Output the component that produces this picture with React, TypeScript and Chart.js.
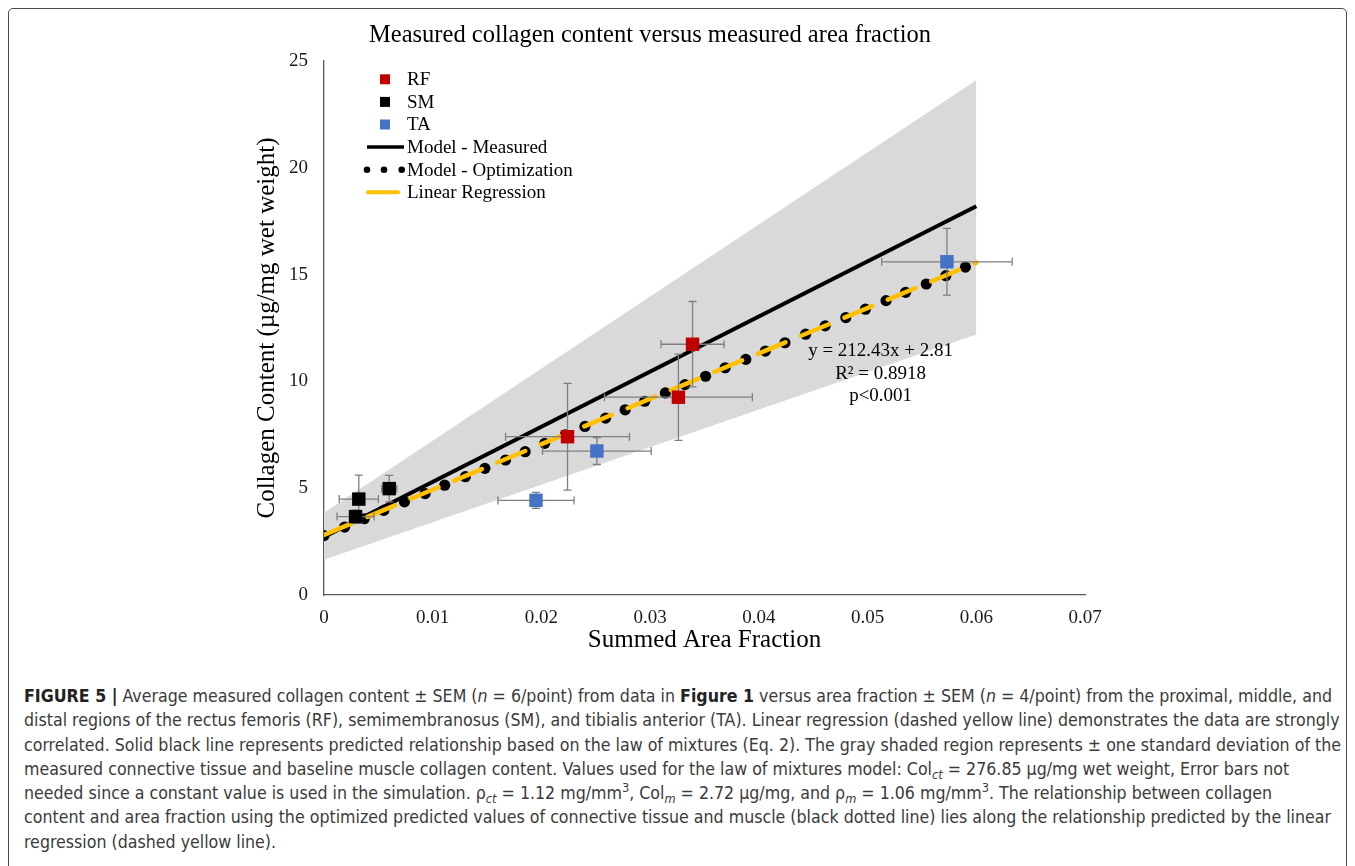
import React, { useEffect, useLayoutEffect, useRef } from "react";
import { Chart, registerables } from "chart.js";

Chart.register(...registerables);

// ---------- text ----------
const CHART_TITLE = "Measured collagen content versus measured area fraction";
const X_TITLE = "Summed Area Fraction";
const Y_TITLE = "Collagen Content (µg/mg wet weight)";
const REGRESSION_TEXT = ["y = 212.43x + 2.81", "R² = 0.8918", "p<0.001"];

// ---------- axes ----------
const X_MIN = 0;
const X_MAX = 0.07;
const X_STEP = 0.01;
const Y_MIN = 0;
const Y_MAX = 25;
const Y_STEP = 5;

// ---------- measured points (mean ± SEM) ----------
const rfX = [0.0224, 0.0339, 0.0326];
const rfY = [7.41, 11.74, 9.26];
const rfXErr = [0.0057, 0.0029, 0.0068];
const rfYErr = [2.5, 2.0, 2.02];

const smX = [0.0032, 0.0029, 0.006];
const smY = [4.49, 3.67, 4.98];
const smXErr = [0.0018, 0.0017, 0.0007];
const smYErr = [1.12, 0.3, 0.62];

const taX = [0.0195, 0.0251, 0.0573];
const taY = [4.43, 6.74, 15.6];
const taXErr = [0.0035, 0.005, 0.006];
const taYErr = [0.37, 0.63, 1.56];

// ---------- model / regression ----------
const measuredX = [0, 0.06];
const measuredY = [2.72, 18.2];

const regressionX = [0, 0.06];
const regressionY = [2.81, 15.56];

const optimizationX = [
  0.0, 0.0019, 0.0037, 0.0055, 0.0074, 0.0093, 0.0111, 0.013, 0.0148, 0.0167, 0.0185,
  0.0203, 0.0222, 0.024, 0.0259, 0.0277, 0.0295, 0.0314, 0.0332, 0.0351, 0.0369, 0.0388,
  0.0406, 0.0424, 0.0443, 0.0461, 0.048, 0.0498, 0.0517, 0.0535, 0.0554, 0.0572, 0.059,
];
const optimizationY = [
  2.78, 3.18, 3.57, 3.96, 4.36, 4.75, 5.14, 5.54, 5.93, 6.32, 6.71,
  7.1, 7.5, 7.89, 8.28, 8.67, 9.07, 9.46, 9.85, 10.24, 10.64, 11.03,
  11.42, 11.81, 12.21, 12.6, 12.99, 13.38, 13.78, 14.17, 14.56, 14.95, 15.35,
];

// ± one SD band
const bandX = [0, 0.06];
const bandLow = [1.65, 12.2];
const bandHigh = [3.85, 24.1];

// ---------- styles ----------
const SERIF = "'Liberation Serif', 'Times New Roman', serif";
const RF_COLOR = "#C00000";
const SM_COLOR = "#000000";
const TA_COLOR = "#4472C4";
const REG_COLOR = "#FFC000";
const BAND_COLOR = "#D9D9D9";

const toPts = (xs: number[], ys: number[]) => xs.map((x, i) => ({ x, y: ys[i] }));

const ERRORS: Record<number, { x: number[]; y: number[] }> = {
  0: { x: rfXErr, y: rfYErr },
  1: { x: smXErr, y: smYErr },
  2: { x: taXErr, y: taYErr },
};

const errorBarPlugin = {
  id: "errorBars",
  beforeDatasetDraw(chart: any, args: any) {
    if (args.index !== 2) return;
    const { ctx, scales } = chart;
    const xs = scales.x;
    const ys = scales.y;
    const cap = 4;
    ctx.save();
    ctx.strokeStyle = "#7f7f7f";
    ctx.lineWidth = 1.3;
    Object.keys(ERRORS).forEach((k) => {
      const di = Number(k);
      const ds = chart.data.datasets[di];
      const err = ERRORS[di];
      ds.data.forEach((p: any, i: number) => {
        const px = xs.getPixelForValue(p.x);
        const py = ys.getPixelForValue(p.y);
        const xl = xs.getPixelForValue(p.x - err.x[i]);
        const xr = xs.getPixelForValue(p.x + err.x[i]);
        const yt = ys.getPixelForValue(p.y + err.y[i]);
        const yb = ys.getPixelForValue(p.y - err.y[i]);
        ctx.beginPath();
        ctx.moveTo(xl, py);
        ctx.lineTo(xr, py);
        ctx.moveTo(xl, py - cap);
        ctx.lineTo(xl, py + cap);
        ctx.moveTo(xr, py - cap);
        ctx.lineTo(xr, py + cap);
        ctx.moveTo(px, yt);
        ctx.lineTo(px, yb);
        ctx.moveTo(px - cap, yt);
        ctx.lineTo(px + cap, yt);
        ctx.moveTo(px - cap, yb);
        ctx.lineTo(px + cap, yb);
        ctx.stroke();
      });
    });
    ctx.restore();
  },
};

// legend order: dataset indices
const LEGEND_ORDER = [0, 1, 2, 5, 4, 3];

const insideLegendPlugin = {
  id: "insideLegend",
  afterDatasetsDraw(chart: any) {
    const { ctx, chartArea } = chart;
    const symLeft = chartArea.left + 43;
    const textLeft = chartArea.left + 83;
    const top = chartArea.top + 18.3;
    const step = 22.6;
    ctx.save();
    ctx.font = `19px ${SERIF}`;
    ctx.textBaseline = "middle";
    ctx.textAlign = "left";
    LEGEND_ORDER.forEach((di, row) => {
      const ds = chart.data.datasets[di];
      const y = top + row * step;
      const kind = ds.legendKind;
      if (kind === "square") {
        ctx.fillStyle = ds.backgroundColor;
        ctx.fillRect(symLeft + 13, y - 5, 10, 10);
      } else if (kind === "line") {
        ctx.strokeStyle = ds.borderColor;
        ctx.lineWidth = 3.5;
        ctx.lineCap = "butt";
        ctx.beginPath();
        ctx.moveTo(symLeft, y);
        ctx.lineTo(symLeft + 37, y);
        ctx.stroke();
      } else if (kind === "dots") {
        ctx.fillStyle = ds.backgroundColor;
        [0, 17, 34.7].forEach((dx) => {
          ctx.beginPath();
          ctx.arc(symLeft + dx, y, 3.3, 0, Math.PI * 2);
          ctx.fill();
        });
      } else if (kind === "dash") {
        ctx.strokeStyle = ds.borderColor;
        ctx.lineWidth = 4;
        ctx.lineCap = "round";
        ctx.beginPath();
        ctx.moveTo(symLeft + 1, y);
        ctx.lineTo(symLeft + 31, y);
        ctx.stroke();
      }
      ctx.fillStyle = "#000";
      ctx.fillText(ds.label, textLeft, y + 1);
    });
    ctx.restore();
  },
};

const annotationPlugin = {
  id: "regressionText",
  afterDatasetsDraw(chart: any) {
    const { ctx, scales } = chart;
    const cx = scales.x.getPixelForValue(0.0512);
    const cy = scales.y.getPixelForValue(11.4);
    ctx.save();
    ctx.font = `19px ${SERIF}`;
    ctx.fillStyle = "#000";
    ctx.textAlign = "center";
    ctx.textBaseline = "middle";
    REGRESSION_TEXT.forEach((t, i) => ctx.fillText(t, cx, cy + i * 22.5));
    ctx.restore();
  },
};

function ChartCanvas() {
  const ref = useRef<HTMLCanvasElement | null>(null);
  useEffect(() => {
    if (!ref.current) return;
    const chart = new Chart(ref.current, {
      type: "scatter",
      data: {
        datasets: [
          {
            label: "RF",
            legendKind: "square",
            data: toPts(rfX, rfY),
            pointStyle: "rect",
            pointRadius: 9.5,
            backgroundColor: RF_COLOR,
            borderColor: RF_COLOR,
            borderWidth: 0,
            order: 0,
          } as any,
          {
            label: "SM",
            legendKind: "square",
            data: toPts(smX, smY),
            pointStyle: "rect",
            pointRadius: 9.5,
            backgroundColor: SM_COLOR,
            borderColor: SM_COLOR,
            borderWidth: 0,
            order: 0,
          } as any,
          {
            label: "TA",
            legendKind: "square",
            data: toPts(taX, taY),
            pointStyle: "rect",
            pointRadius: 9.5,
            backgroundColor: TA_COLOR,
            borderColor: TA_COLOR,
            borderWidth: 0,
            order: 0,
          } as any,
          {
            label: "Linear Regression",
            legendKind: "dash",
            data: toPts(regressionX, regressionY),
            showLine: true,
            borderColor: REG_COLOR,
            backgroundColor: REG_COLOR,
            borderWidth: 4.5,
            borderDash: [30, 17],
            borderCapStyle: "round",
            pointRadius: 0,
            order: 1,
          } as any,
          {
            label: "Model - Optimization",
            legendKind: "dots",
            data: toPts(optimizationX, optimizationY),
            pointStyle: "circle",
            pointRadius: 5.6,
            backgroundColor: "#000",
            borderColor: "#000",
            borderWidth: 0,
            showLine: false,
            order: 2,
          } as any,
          {
            label: "Model - Measured",
            legendKind: "line",
            data: toPts(measuredX, measuredY),
            showLine: true,
            borderColor: "#000",
            backgroundColor: "#000",
            borderWidth: 4,
            pointRadius: 0,
            order: 3,
          } as any,
          {
            label: "SD low",
            data: toPts(bandX, bandLow),
            showLine: true,
            borderWidth: 0,
            borderColor: "rgba(0,0,0,0)",
            pointRadius: 0,
            fill: false,
            order: 4,
          } as any,
          {
            label: "SD high",
            data: toPts(bandX, bandHigh),
            showLine: true,
            borderWidth: 0,
            borderColor: "rgba(0,0,0,0)",
            backgroundColor: BAND_COLOR,
            pointRadius: 0,
            fill: 6,
            order: 4,
          } as any,
        ],
      },
      options: {
        animation: false,
        responsive: false,
        devicePixelRatio: 1,
        events: [],
        layout: { padding: { left: 207, right: 262, top: 0, bottom: 3 } },
        plugins: {
          legend: { display: false },
          tooltip: { enabled: false },
          title: {
            display: true,
            text: CHART_TITLE,
            color: "#000",
            font: { family: SERIF, size: 24.5, weight: "normal" },
            padding: { top: 13.3, bottom: 10.3 },
          },
        },
        scales: {
          x: {
            type: "linear",
            min: X_MIN,
            max: X_MAX,
            afterFit: (s: any) => {
              s.height = 60;
            },
            grid: { display: false, drawTicks: false },
            border: { display: true, color: "#595959", width: 1.3 },
            ticks: {
              stepSize: X_STEP,
              padding: 11.6,
              color: "#1a1a1a",
              font: { family: SERIF, size: 19 },
              callback: (v: any) => (Number(v) === 0 ? "0" : Number(v).toFixed(2)),
            },
            title: {
              display: true,
              text: X_TITLE,
              color: "#000",
              font: { family: SERIF, size: 25 },
              padding: { top: 0, bottom: 0 },
            },
          },
          y: {
            type: "linear",
            min: Y_MIN,
            max: Y_MAX,
            afterFit: (s: any) => {
              s.width = 109;
            },
            grid: { display: false, drawTicks: false },
            border: { display: true, color: "#595959", width: 1.3 },
            ticks: {
              stepSize: Y_STEP,
              padding: 16,
              color: "#1a1a1a",
              font: { family: SERIF, size: 19 },
            },
            title: {
              display: true,
              text: Y_TITLE,
              color: "#000",
              font: { family: SERIF, size: 25 },
              padding: { top: 37, bottom: 0 },
            },
          },
        },
      },
      plugins: [errorBarPlugin, annotationPlugin, insideLegendPlugin],
    } as any);
    return () => chart.destroy();
  }, []);
  return (
    <canvas
      ref={ref}
      width={1339}
      height={650}
      style={{ position: "absolute", left: 0, top: 0, width: 1339, height: 650 }}
    />
  );
}

const subStyle: React.CSSProperties = {
  fontSize: "0.72em",
  verticalAlign: "-0.3em",
  lineHeight: 0,
  fontStyle: "italic",
};
const supStyle: React.CSSProperties = {
  fontSize: "0.72em",
  verticalAlign: "0.55em",
  lineHeight: 0,
};

function Caption() {
  const boxRef = useRef<HTMLDivElement | null>(null);
  const firstRef = useRef<HTMLSpanElement | null>(null);
  useLayoutEffect(() => {
    if (!boxRef.current || !firstRef.current) return;
    const w = firstRef.current.getBoundingClientRect().width;
    if (w > 0) boxRef.current.style.transform = `scaleX(${1308 / w})`;
  }, []);
  const line: React.CSSProperties = { display: "block", whiteSpace: "nowrap", height: 24.3 };
  const b: React.CSSProperties = { fontWeight: 700, color: "#222" };
  const lines = [
    <>
      <span style={b}>FIGURE 5 |</span> Average measured collagen content ± SEM (<i>n</i> = 6/point) from data in{" "}
      <span style={b}>Figure 1</span> versus area fraction ± SEM (<i>n</i> = 4/point) from the proximal, middle, and
    </>,
    <>
      distal regions of the rectus femoris (RF), semimembranosus (SM), and tibialis anterior (TA). Linear regression
      (dashed yellow line) demonstrates the data are strongly
    </>,
    <>
      correlated. Solid black line represents predicted relationship based on the law of mixtures (Eq. 2). The gray
      shaded region represents ± one standard deviation of the
    </>,
    <>
      measured connective tissue and baseline muscle collagen content. Values used for the law of mixtures model: Col
      <span style={subStyle}>ct</span> = 276.85 μg/mg wet weight, Error bars not
    </>,
    <>
      needed since a constant value is used in the simulation. ρ<span style={subStyle}>ct</span> = 1.12 mg/mm
      <span style={supStyle}>3</span>, Col<span style={subStyle}>m</span> = 2.72 μg/mg, and ρ
      <span style={subStyle}>m</span> = 1.06 mg/mm<span style={supStyle}>3</span>. The relationship between collagen
    </>,
    <>
      content and area fraction using the optimized predicted values of connective tissue and muscle (black dotted line)
      lies along the relationship predicted by the linear
    </>,
    <>regression (dashed yellow line).</>,
  ];
  return (
    <div
      ref={boxRef}
      style={{
        position: "absolute",
        left: 16,
        top: 676,
        transformOrigin: "0 0",
        fontFamily: "'Liberation Sans Narrow', 'Arial Narrow', 'DejaVu Sans Condensed', 'Liberation Sans', sans-serif",
        fontSize: 17,
        lineHeight: "24.3px",
        color: "#3a3a3a",
      }}
    >
      {lines.map((l, i) => (
        <span key={i} style={line}>
          <span ref={i === 0 ? firstRef : undefined} style={{ display: "inline-block", whiteSpace: "nowrap" }}>
            {l}
          </span>
        </span>
      ))}
    </div>
  );
}

export default function App() {
  return (
    <div style={{ position: "relative", width: 1339, height: 858, overflow: "hidden" }}>
      <div
        style={{
          position: "absolute",
          left: 0,
          top: 0,
          width: 1339,
          height: 870,
          boxSizing: "border-box",
          border: "1.5px solid #4d4d4d",
          borderRadius: 5,
        }}
      />
      <ChartCanvas />
      <Caption />
    </div>
  );
}
